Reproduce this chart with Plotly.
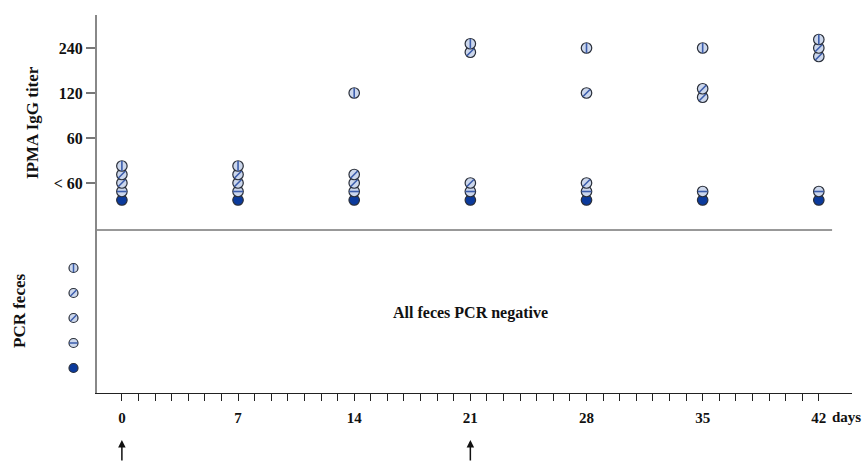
import plotly.graph_objects as go

# ---- data ----
days = [0, 7, 14, 21, 28, 35, 42]
titer_labels = ["< 60", "60", "120", "240"]   # level index 0..3
# IPMA IgG titer level (index into titer_labels) per animal per day
animal_solid = [0, 0, 0, 0, 0, 0, 0]
animal_horiz = [0, 0, 0, 0, 0, 0, 0]
animal_slash1 = [0, 0, 0, 0, 0, 2, 3]
animal_slash2 = [0, 0, 0, 3, 2, 2, 3]
animal_vert = [0, 0, 2, 3, 3, 3, 3]
pcr_feces_positive = [False, False, False, False, False]  # all negative
vaccination_days = [0, 21]

animals = [
    ("solid", animal_solid, None),
    ("horiz", animal_horiz, "line-ew"),
    ("slash1", animal_slash1, "line-ne"),
    ("slash2", animal_slash2, "line-ne"),
    ("vert", animal_vert, "line-ns"),
]

FONT = "Liberation Serif"
STEP = 8.5 / 45.0  # vertical stacking step in titer-level units
SOLID = "#0b3a9c"
FILL = "#ccd7ec"
OUTLINE = "#2a2f3a"
STRIPE = "#3b5cab"

PX0, PX1, PY0, PY1 = 50, 852, 15, 393   # absolute plot-area pixels
W, H = 866, 462
L, T, R, B = PX0, PY0, W - PX1, H - PY1
pw, ph = PX1 - PX0, PY1 - PY0


def px(X):
    return (X - PX0) / pw


def py(Y):
    return (PY1 - Y) / ph


split = py(230)
xdom0 = px(97)

# compute stacked positions
positions = {name: [] for name, _, _ in animals}
for di in range(len(days)):
    groups = {}
    for name, vals, _ in animals:
        groups.setdefault(vals[di], []).append(name)
    for lvl, names in groups.items():
        n = len(names)
        for rank, name in enumerate(names):
            if lvl == 0:
                off = (-2 + rank) * STEP
            else:
                off = (rank - (n - 1) / 2) * STEP
            positions[name].append(lvl + off)

fig = go.Figure()
for idx, (name, vals, sym) in enumerate(animals):
    color = SOLID if sym is None else FILL
    fig.add_trace(go.Scatter(x=days, y=positions[name], mode="markers", xaxis="x", yaxis="y",
                             cliponaxis=False, showlegend=False,
                             marker=dict(symbol="circle", size=10.5, color=color,
                                         line=dict(color=OUTLINE, width=1.2))))
    fig.add_trace(go.Scatter(x=[0.5], y=[idx], mode="markers", xaxis="x2", yaxis="y2",
                             cliponaxis=False, showlegend=False,
                             marker=dict(symbol="circle", size=9, color=color,
                                         line=dict(color=OUTLINE, width=1.2))))
    if sym is not None:
        fig.add_trace(go.Scatter(x=days, y=positions[name], mode="markers", xaxis="x", yaxis="y",
                                 cliponaxis=False, showlegend=False,
                                 marker=dict(symbol=sym, size=7, color=STRIPE,
                                             line=dict(color=STRIPE, width=1.6))))
        fig.add_trace(go.Scatter(x=[0.5], y=[idx], mode="markers", xaxis="x2", yaxis="y2",
                                 cliponaxis=False, showlegend=False,
                                 marker=dict(symbol=sym, size=6, color=STRIPE,
                                             line=dict(color=STRIPE, width=1.5))))

tickvals = list(range(0, 43))
ticktext = [f"<b>{d}</b>" if d % 7 == 0 else "" for d in tickvals]

fig.update_layout(
    width=W, height=H,
    margin=dict(l=L, r=R, t=T, b=B, autoexpand=False),
    plot_bgcolor="white", paper_bgcolor="white",
    font=dict(family=FONT, color="#111"),
    xaxis=dict(domain=[xdom0, 1], anchor="y2", range=[-1.5, 44], tickvals=tickvals, ticktext=ticktext,
               ticks="outside", ticklen=7, tickcolor="#222", tickwidth=1,
               showline=True, linecolor="#222", linewidth=1, showgrid=False, zeroline=False,
               tickfont=dict(family=FONT, size=15, color="#111"), ticklabelstandoff=4),
    xaxis2=dict(domain=[0, xdom0], anchor="y2", range=[0, 1], visible=False),
    yaxis=dict(domain=[split, 1], anchor="x", range=[-1.044, 3.733], tickvals=[0, 1, 2, 3],
               ticktext=[f"<b>{t}</b>" for t in titer_labels], ticks="outside", ticklen=9,
               tickcolor="#777", tickwidth=1.5, showline=True, linecolor="#888", linewidth=2,
               showgrid=False, zeroline=False, tickfont=dict(family=FONT, size=16, color="#111")),
    yaxis2=dict(domain=[0, split], anchor="x", range=[-1, 5.52], showticklabels=False, ticks="",
                showline=True, linecolor="#888", linewidth=2, showgrid=False, zeroline=False),
    shapes=[dict(type="line", xref="x", yref="paper", x0=-1.5, x1=42.8, y0=split, y1=split,
                 line=dict(color="#333", width=1))],
)

C = dict(xanchor="center", yanchor="middle", showarrow=False)
anns = [
    dict(text="<b>IPMA IgG titer</b>", xref="paper", yref="paper", x=px(32), y=py(123),
         textangle=-90, font=dict(size=17, family=FONT), **C),
    dict(text="<b>PCR feces</b>", xref="paper", yref="paper", x=px(19), y=py(311),
         textangle=-90, font=dict(size=17, family=FONT), **C),
    dict(text="<b>All feces PCR negative</b>" if not any(pcr_feces_positive) else "",
         xref="x", yref="paper", x=21, y=py(313), font=dict(size=16, family=FONT), **C),
    dict(text="<b>days</b>", xref="paper", yref="paper", x=px(846), y=py(417),
         font=dict(size=15, family=FONT), **C),
]
for d in vaccination_days:
    anns.append(dict(text="", xref="x", yref="paper", x=d, y=py(440),
                     showarrow=True, arrowhead=2, arrowsize=1, arrowwidth=1.5, arrowcolor="#111",
                     ax=0, ay=22))
fig.update_layout(annotations=anns)

fig.write_html("out.html", config={"displayModeBar": False},
               post_script="document.body.style.margin='0';document.body.style.overflow='hidden';")
